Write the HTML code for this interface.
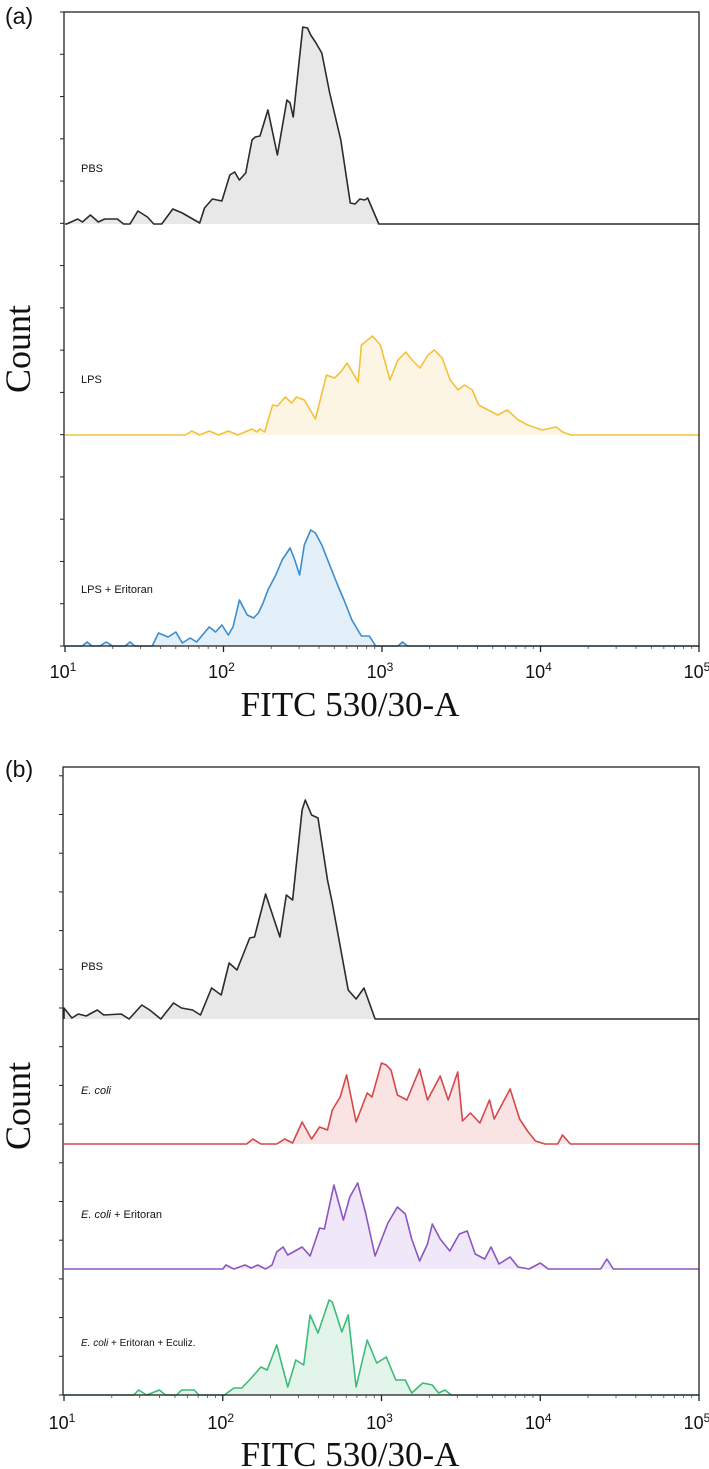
<!DOCTYPE html>
<html><head><meta charset="utf-8">
<style>
html,body{margin:0;padding:0;background:#fff;}
svg{display:block;}
</style></head>
<body>
<svg id="chart" width="709" height="1469" viewBox="0 0 709 1469" xmlns="http://www.w3.org/2000/svg"></svg>
<script>
// ---- data: log10(FITC intensity) and relative counts ----
const tickExponents = [1, 2, 3, 4, 5];
const pbsA_x = [1.01,1.08,1.11,1.16,1.21,1.25,1.33,1.37,1.41,1.46,1.52,1.56,1.61,1.68,1.74,1.85,1.88,1.93,1.99,2.04,2.07,2.10,2.14,2.18,2.20,2.23,2.28,2.34,2.40,2.42,2.44,2.50,2.53,2.55,2.58,2.62,2.67,2.74,2.80,2.83,2.86,2.89,2.91,2.98];
const pbsA_y = [0,5,2,9,2,5,5,0,0,13,7,0,0,15,11,1,16,25,23,49,52,44,51,84,87,88,114,69,124,121,107,197,196,189,182,171,131,84,21,20,25,24,26,0];
const lpsA_x = [1.76,1.80,1.85,1.91,1.97,2.03,2.09,2.15,2.18,2.21,2.23,2.26,2.31,2.34,2.39,2.43,2.46,2.51,2.58,2.65,2.70,2.74,2.78,2.85,2.87,2.94,2.99,3.05,3.10,3.15,3.19,3.24,3.29,3.33,3.38,3.43,3.48,3.52,3.57,3.61,3.67,3.73,3.79,3.86,3.92,4.01,4.10,4.14,4.19];
const lpsA_y = [0,4,0,4,0,4,0,4,6,3,6,3,30,29,38,32,38,35,16,60,57,63,72,53,90,99,90,55,75,83,75,67,80,85,77,55,45,50,45,30,25,20,25,15,10,5,8,3,0];
const lpsEriA_x = [1.11,1.14,1.17,1.22,1.26,1.30,1.38,1.41,1.44,1.55,1.59,1.65,1.70,1.74,1.79,1.83,1.91,1.95,1.99,2.03,2.06,2.10,2.15,2.19,2.22,2.25,2.28,2.33,2.37,2.42,2.45,2.48,2.51,2.55,2.58,2.62,2.67,2.72,2.76,2.81,2.87,2.92,2.96,3.10,3.13,3.16];
const lpsEriA_y = [0,4,0,0,4,0,0,4,0,0,13,9,14,3,8,4,19,14,21,11,19,46,31,28,33,43,56,71,86,98,86,71,101,116,113,101,81,61,46,26,10,10,0,0,4,0];
const pbsB_x = [1.00,1.05,1.09,1.14,1.21,1.25,1.36,1.41,1.49,1.54,1.61,1.69,1.74,1.81,1.86,1.93,1.99,2.04,2.09,2.17,2.20,2.27,2.36,2.40,2.44,2.50,2.52,2.56,2.60,2.66,2.69,2.79,2.84,2.89,2.96];
const pbsB_y = [11,1,5,3,9,4,5,0,14,9,0,16,11,9,4,31,24,56,49,81,82,125,82,124,119,209,219,204,201,139,116,29,20,31,0];
const ecoliB_x = [2.15,2.19,2.24,2.34,2.39,2.44,2.50,2.56,2.61,2.66,2.69,2.74,2.78,2.84,2.91,2.94,3.00,3.03,3.06,3.10,3.16,3.24,3.29,3.37,3.42,3.48,3.51,3.56,3.62,3.68,3.71,3.81,3.87,3.92,3.97,4.03,4.11,4.14,4.19];
const ecoliB_y = [0,5,0,0,5,1,22,5,17,14,34,47,69,22,51,47,81,79,74,49,44,75,44,68,44,72,23,31,21,44,25,55,25,13,3,0,0,9,0];
const ecoliEriB_x = [2.00,2.02,2.07,2.14,2.18,2.22,2.27,2.31,2.34,2.38,2.41,2.50,2.55,2.61,2.64,2.70,2.76,2.80,2.85,2.90,2.96,3.04,3.10,3.15,3.19,3.24,3.29,3.32,3.37,3.43,3.49,3.54,3.59,3.65,3.69,3.74,3.81,3.86,3.93,4.00,4.05,4.38,4.42,4.46];
const ecoliEriB_y = [0,4,0,4,1,4,0,4,17,22,14,22,13,41,40,84,49,72,86,56,13,46,62,55,30,8,25,45,30,18,35,38,15,10,22,5,12,2,0,6,0,0,10,0];
const ecoliEriEcuB_x = [1.44,1.47,1.52,1.60,1.64,1.71,1.74,1.82,1.85,2.01,2.07,2.12,2.18,2.24,2.28,2.34,2.41,2.46,2.51,2.55,2.60,2.67,2.69,2.75,2.79,2.84,2.91,2.97,3.03,3.09,3.15,3.19,3.26,3.32,3.36,3.40,3.44];
const ecoliEriEcuB_y = [0,5,0,5,0,0,5,5,0,0,7,7,17,28,25,50,8,35,30,80,62,95,93,63,80,8,55,32,38,15,15,2,12,10,2,5,0];

// ---- layout ----
const NS = 'http://www.w3.org/2000/svg';
const svg = document.getElementById('chart');
function mk(tag, attrs, parent){
  const e = document.createElementNS(NS, tag);
  for (const k in attrs) e.setAttribute(k, attrs[k]);
  (parent||svg).appendChild(e);
  return e;
}
const panels = [
  {id:'a', left:65, right:699, top:12, bottom:646, tickStep:634/15, tickCount:15, labelY:678, titleY:716, countY:349, tagY:24,
   series:[
    {name:'pbs', label:[['PBS',0]], base:224, xs:pbsA_x, ys:pbsA_y, stroke:'#2b2b2b', fill:'#e8e8e8', ly:172},
    {name:'lps', label:[['LPS',0]], base:435, xs:lpsA_x, ys:lpsA_y, stroke:'#f4c138', fill:'#fdf5e4', ly:383},
    {name:'lps-eritoran', label:[['LPS + Eritoran',0]], base:646, xs:lpsEriA_x, ys:lpsEriA_y, stroke:'#3a8dcf', fill:'#e3eff9', ly:593}
   ]},
  {id:'b', left:64, right:699, top:767, bottom:1395, tickStep:38.7, tickCount:16, labelY:1429, titleY:1466, countY:1106, tagY:777,
   series:[
    {name:'pbs', label:[['PBS',0]], base:1019, xs:pbsB_x, ys:pbsB_y, stroke:'#2b2b2b', fill:'#e8e8e8', ly:970},
    {name:'e-coli', label:[['E. coli',1]], base:1144, xs:ecoliB_x, ys:ecoliB_y, stroke:'#d6474a', fill:'#f9e4e3', ly:1094},
    {name:'e-coli-eritoran', label:[['E. coli',1],[' + Eritoran',0]], base:1269, xs:ecoliEriB_x, ys:ecoliEriB_y, stroke:'#8a56c2', fill:'#f0e7f8', ly:1218},
    {name:'e-coli-eritoran-eculiz', label:[['E. coli',1],[' + Eritoran + Eculiz.',0]], base:1395, xs:ecoliEriEcuB_x, ys:ecoliEriEcuB_y, stroke:'#3cbc77', fill:'#e3f5ea', ly:1346}
   ]}
];

panels.forEach(p => {
  const g = mk('g', {});
  
  
  const xScale = v => p.left + (v - 1) / 4 * (p.right - p.left);

  p.series.forEach(s => {
    const yScale = c => s.base - c;
    let pts = [];
    pts.push([xScale(1), yScale(0)]);
    for (let i = 0; i < s.xs.length; i++) pts.push([xScale(s.xs[i]), yScale(s.ys[i])]);
    pts.push([xScale(5), yScale(0)]);
    const d = pts.map((q,i)=>(i?'L':'M')+q[0].toFixed(1)+' '+q[1].toFixed(1)).join(' ');
    const area = mk('path', {d: d + ' Z', fill: s.fill, stroke: 'none'}, g);
    
    
    const line = mk('path', {d: d, fill: 'none', stroke: s.stroke, 'stroke-width': 1.6, 'stroke-linejoin': 'round'}, g);
    
    
    const t = mk('text', {x: 81, y: s.ly, 'font-family': 'Liberation Sans, sans-serif', 'font-size': s.name==='e-coli-eritoran-eculiz' ? 10 : 11, fill: '#111', 'xml:space': 'preserve'}, g);
    
    
    s.label.forEach(part => {
      const ts = mk('tspan', {}, t);
      if (part[1]) ts.setAttribute('font-style', 'italic');
      ts.textContent = part[0];
    });
  });

  const frame = mk('rect', {x: p.left - 1, y: p.top, width: p.right - p.left + 1, height: p.bottom - p.top, fill: 'none', stroke: '#222', 'stroke-width': 1.3}, g);
  
  

  for (let i = 0; i <= p.tickCount; i++) {
    const y = p.bottom - i * p.tickStep;
    const tk = mk('line', {x1: p.left - 5, x2: p.left - 1, y1: y, y2: y, stroke: '#222', 'stroke-width': 1}, g);
    
    
  }

  for (let e = 1; e <= 5; e++) {
    const xm = xScale(e);
    const tk = mk('line', {x1: xm, x2: xm, y1: p.bottom, y2: p.bottom + 6, stroke: '#222', 'stroke-width': 1.3}, g);
    
    
    if (e < 5) for (let m = 2; m <= 9; m++) {
      const xn = xScale(e + Math.log10(m));
      const mt = mk('line', {x1: xn, x2: xn, y1: p.bottom, y2: p.bottom + 3, stroke: '#444', 'stroke-width': 0.8}, g);
      
      
    }
  }
  tickExponents.forEach(e => {
    const t = mk('text', {x: xScale(e) - 2, y: p.labelY, 'font-family': 'Liberation Sans, sans-serif', 'font-size': 18, 'text-anchor': 'middle', fill: '#111'}, g);
    
    
    const a = mk('tspan', {}, t); a.textContent = '10';
    const b = mk('tspan', {'font-size': 12, dy: -7}, t); b.textContent = String(e);
  });

  const xt = mk('text', {x: 350, y: p.titleY, 'font-family': 'Liberation Serif, serif', 'font-size': 35, 'text-anchor': 'middle', fill: '#111'}, g);
  xt.textContent = 'FITC 530/30-A';
  
  

  const yt = mk('text', {x: 0, y: 0, 'font-family': 'Liberation Serif, serif', 'font-size': 36, 'text-anchor': 'middle', fill: '#111', transform: 'translate(30,' + p.countY + ') rotate(-90)'}, g);
  yt.textContent = 'Count';
  
  

  const tag = mk('text', {x: 5, y: p.tagY, 'font-family': 'Liberation Sans, sans-serif', 'font-size': 23, fill: '#111'}, g);
  tag.textContent = '(' + p.id + ')';
  
  
});
</script>
</body></html>
